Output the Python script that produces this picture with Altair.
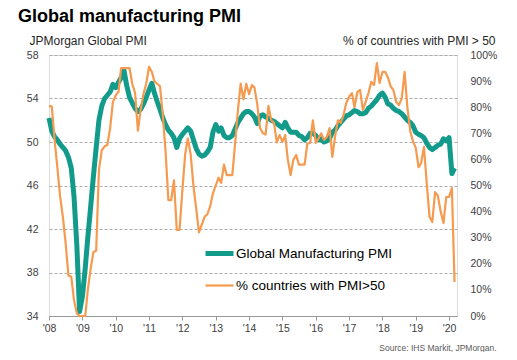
import altair as alt
import pandas as pd

FONT = "Liberation Sans"

# Monthly data, Jan 2008 - Mar 2020
months = pd.date_range("2008-01-01", periods=147, freq="MS")

pmi = [
    52.2, 51.0, 50.5, 50.2, 49.8, 49.5, 49.2, 48.6, 47.6, 45.0, 40.5, 34.4,  # 2008
    35.8, 38.4, 41.2, 44.0, 46.8, 49.5, 52.0, 53.3, 54.0, 54.3, 54.6, 55.3,  # 2009
    55.0, 55.5, 55.9, 56.6, 55.2, 54.1, 53.6, 53.1, 52.8, 53.0, 53.5, 54.1,  # 2010
    54.8, 55.4, 54.5, 53.7, 53.0, 52.2, 51.6, 51.1, 50.8, 50.4, 49.5, 50.3,  # 2011
    50.7, 51.0, 51.3, 51.0, 50.2, 49.4, 48.9, 48.7, 48.8, 49.1, 49.5, 50.9,  # 2012
    51.6, 51.0, 51.3, 50.6, 50.4, 50.4, 50.6, 51.2, 51.8, 52.2, 52.6, 52.8,  # 2013
    52.8, 52.6, 52.3, 51.7, 52.4, 52.5, 52.3, 52.2, 52.0, 51.9, 51.7, 51.5,  # 2014
    51.3, 51.8, 51.3, 50.9, 50.9, 50.9, 50.6, 50.5, 50.2, 50.4, 50.8, 50.8,  # 2015
    50.6, 50.2, 50.3, 50.0, 50.1, 50.3, 50.9, 51.1, 51.5, 51.8, 52.1, 52.4,  # 2016
    52.5, 52.7, 52.9, 52.8, 52.6, 52.6, 52.7, 53.1, 53.3, 53.6, 53.9, 54.3,  # 2017
    54.5, 54.1, 53.5, 53.4, 53.1, 52.9, 52.8, 52.6, 52.3, 52.0, 51.8, 51.5,  # 2018
    50.9, 50.7, 50.6, 50.4, 49.9, 49.5, 49.3, 49.5, 49.7, 49.8, 50.3, 50.1,  # 2019
    50.4, 47.1, 47.6,                                                        # 2020
]

pct = [
    80.5, 80.2, 68.0, 57.0, 46.0, 38.0, 28.0, 15.5, 15.0, 6.0, 1.0, 0.0,     # 2008
    0.0, 0.0, 10.0, 18.0, 24.5, 25.0, 56.0, 63.5, 65.0, 65.5, 72.0, 82.0,    # 2009
    84.5, 86.0, 95.0, 95.0, 95.0, 95.0, 89.0, 85.5, 71.0, 79.0, 85.0, 89.0,  # 2010
    95.5, 93.5, 90.0, 89.0, 88.0, 77.0, 63.0, 44.4, 44.4, 52.0, 33.0, 33.0,  # 2011
    48.0, 62.0, 68.0, 62.0, 50.0, 41.0, 32.0, 35.0, 38.0, 39.0, 42.0, 47.0,  # 2012
    50.0, 53.0, 51.0, 58.0, 54.0, 54.0, 54.0, 66.0, 79.0, 89.0, 83.0, 89.0,  # 2013
    85.0, 88.5, 87.5, 81.0, 72.0, 70.0, 69.5, 80.5, 75.0, 74.0, 66.5, 69.3,  # 2014
    66.7, 69.3, 60.0, 54.0, 59.8, 61.7, 58.0, 58.0, 58.0, 66.0, 66.3, 75.0,  # 2015
    66.3, 68.0, 70.0, 67.4, 68.6, 72.0, 61.0, 69.0, 75.0, 74.0, 77.0, 81.6,  # 2016
    84.0, 85.4, 80.0, 85.8, 86.6, 79.0, 82.0, 85.4, 89.7, 88.5, 96.9, 89.3,  # 2017
    93.5, 93.5, 91.5, 88.0, 86.6, 82.0, 80.8, 83.5, 93.5, 80.0, 71.0, 67.0,  # 2018
    64.4, 57.0, 58.6, 64.8, 51.0, 38.0, 36.0, 47.5, 46.0, 40.0, 35.6, 45.6,  # 2019
    45.6, 49.0, 13.0,                                                        # 2020
]

series_names = ["Global Manufacturing PMI", "% countries with PMI>50"]
series_colors = ["#129B8B", "#F59A4E"]
series_widths = [5, 2.2]
year_ticks = list(range(2008, 2021))
pmi_ticks = [34, 38, 42, 46, 50, 54, 58]
pct_ticks = list(range(0, 101, 10))

assert len(pmi) == len(months) == len(pct)

df_pmi = pd.DataFrame({"date": months, "value": pmi, "series": series_names[0]})
df_pct = pd.DataFrame({"date": months, "value": pct, "series": series_names[1]})

legend_kw = dict(
    title=None, orient="none", legendX=154, legendY=182, direction="vertical",
    symbolType="stroke", symbolSize=784, labelFont=FONT, labelFontSize=13.5,
    labelColor="#000000", labelOffset=0, rowPadding=6, padding=0,
)
color_enc = alt.Color("series:N", scale=alt.Scale(domain=series_names, range=series_colors),
                      legend=alt.Legend(**legend_kw))
width_enc = alt.StrokeWidth("series:N", scale=alt.Scale(domain=series_names, range=series_widths),
                            legend=alt.Legend(**legend_kw))

x_enc = alt.X(
    "date:T",
    scale=alt.Scale(domain=[alt.DateTime(year=2008, month=1, date=1),
                            alt.DateTime(year=2020, month=3, date=28)]),
    axis=alt.Axis(
        values=[alt.DateTime(year=y, month=1, date=1) for y in year_ticks],
        format="'%y", labelFont=FONT, labelFontSize=10.5, labelColor="#404040",
        labelFlush=False, labelPadding=3, tickSize=4, tickColor="#999999",
        domainColor="#999999",
        grid=False, title="Source: IHS Markit, JPMorgan.", titleFont=FONT,
        titleFontSize=8.5, titleFontWeight="normal", titleColor="#595959",
        titleAlign="right", titleBaseline="alphabetic", titleX=447, titleY=34,
    ),
)

y_left = alt.Y(
    "value:Q",
    scale=alt.Scale(domain=[34, 58], nice=False, zero=False),
    axis=alt.Axis(
        values=pmi_ticks, title="JPMorgan Global PMI", titleAngle=0,
        titleAlign="left", titleBaseline="alphabetic", titleX=-20, titleY=-11,
        titleFont=FONT, titleFontSize=12, titleFontWeight="normal", titleColor="#262626",
        grid=True, gridDash=[3, 2], gridColor="#ababab", gridWidth=1,
        domain=False, ticks=False, tickSize=0, labelPadding=11,
        labelFont=FONT, labelFontSize=10.5, labelColor="#404040",
    ),
)

y_right = alt.Y(
    "value:Q",
    scale=alt.Scale(domain=[0, 100], nice=False),
    axis=alt.Axis(
        orient="right", values=pct_ticks, labelExpr="datum.value + '%'",
        title="% of countries with  PMI > 50", titleAngle=0,
        titleAlign="right", titleBaseline="alphabetic", titleX=38, titleY=-11,
        titleFont=FONT, titleFontSize=12, titleFontWeight="normal", titleColor="#262626",
        grid=False, domain=False, ticks=False, tickSize=0, labelPadding=13,
        labelFont=FONT, labelFontSize=10.5, labelColor="#404040",
    ),
)

pmi_line = alt.Chart(df_pmi).mark_line(strokeJoin="round").encode(
    x=x_enc, y=y_left, color=color_enc, strokeWidth=width_enc)
pct_line = alt.Chart(df_pct).mark_line(strokeJoin="round").encode(
    x=x_enc, y=y_right, color=color_enc, strokeWidth=width_enc)

chart = alt.layer(pmi_line, pct_line).resolve_scale(y="independent").properties(
    width=408, height=261,
    padding={"left": 41, "top": 47, "right": 52, "bottom": 36},
    autosize=alt.AutoSizeParams(type="none"),
    title=alt.TitleParams(
        "Global manufacturing PMI", anchor="start", frame="group", dx=-31, dy=18,
        offset=12, fontSize=18, font=FONT, fontWeight="bold", color="#000000",
        baseline="alphabetic",
    ),
).configure_view(stroke=None).configure(font=FONT)

chart.save("out.html", embed_options={"renderer": "svg", "actions": False})
